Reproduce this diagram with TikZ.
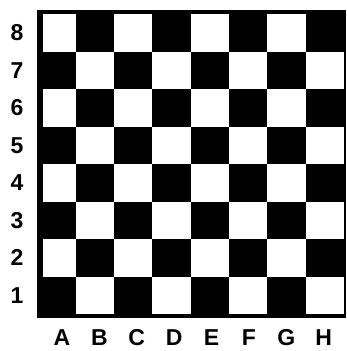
\documentclass[tikz,border=0pt]{standalone}
\usepackage{fontspec}
\setmainfont{Liberation Sans}
\usepackage{xcolor}

\tikzset{
  boardlabel/.style={inner sep=0pt, font=\bfseries\fontsize{23}{23}\selectfont},
  lightsq/.style={fill=white}
}

\begin{document}
\begin{tikzpicture}[x=1pt, y=-1pt]
    \useasboundingbox (0,0) rectangle (346,351);

    % Frame
    \fill[black] (37,10) rectangle (346,318);

    % Light squares
    \begin{scope}
        \clip (43,14) rectangle (346,314);
        \foreach \col in {0,...,7}
            \foreach \row in {0,...,7} {
                \pgfmathtruncatemacro{\parity}{mod(\col+\row,2)}
                \ifnum\parity=0
                    \fill[lightsq] ({37.5+38.3*\col},{14+37.5*\row}) rectangle ({37.5+38.3*(\col+1)},{14+37.5*(\row+1)});
                \fi
            }
    \end{scope}

    % Rank labels
    \foreach \rank [count=\row from 0] in {8,7,6,5,4,3,2,1}
        \node[boardlabel] (rank\rank) at (17,{32.75+37.5*\row}) {\rank};

    % File labels
    \foreach \file [count=\col from 0] in {A,B,C,D,E,F,G,H}
        \node[boardlabel] (file\file) at ({62+37.4*\col},338) {\file};
\end{tikzpicture}
\end{document}
